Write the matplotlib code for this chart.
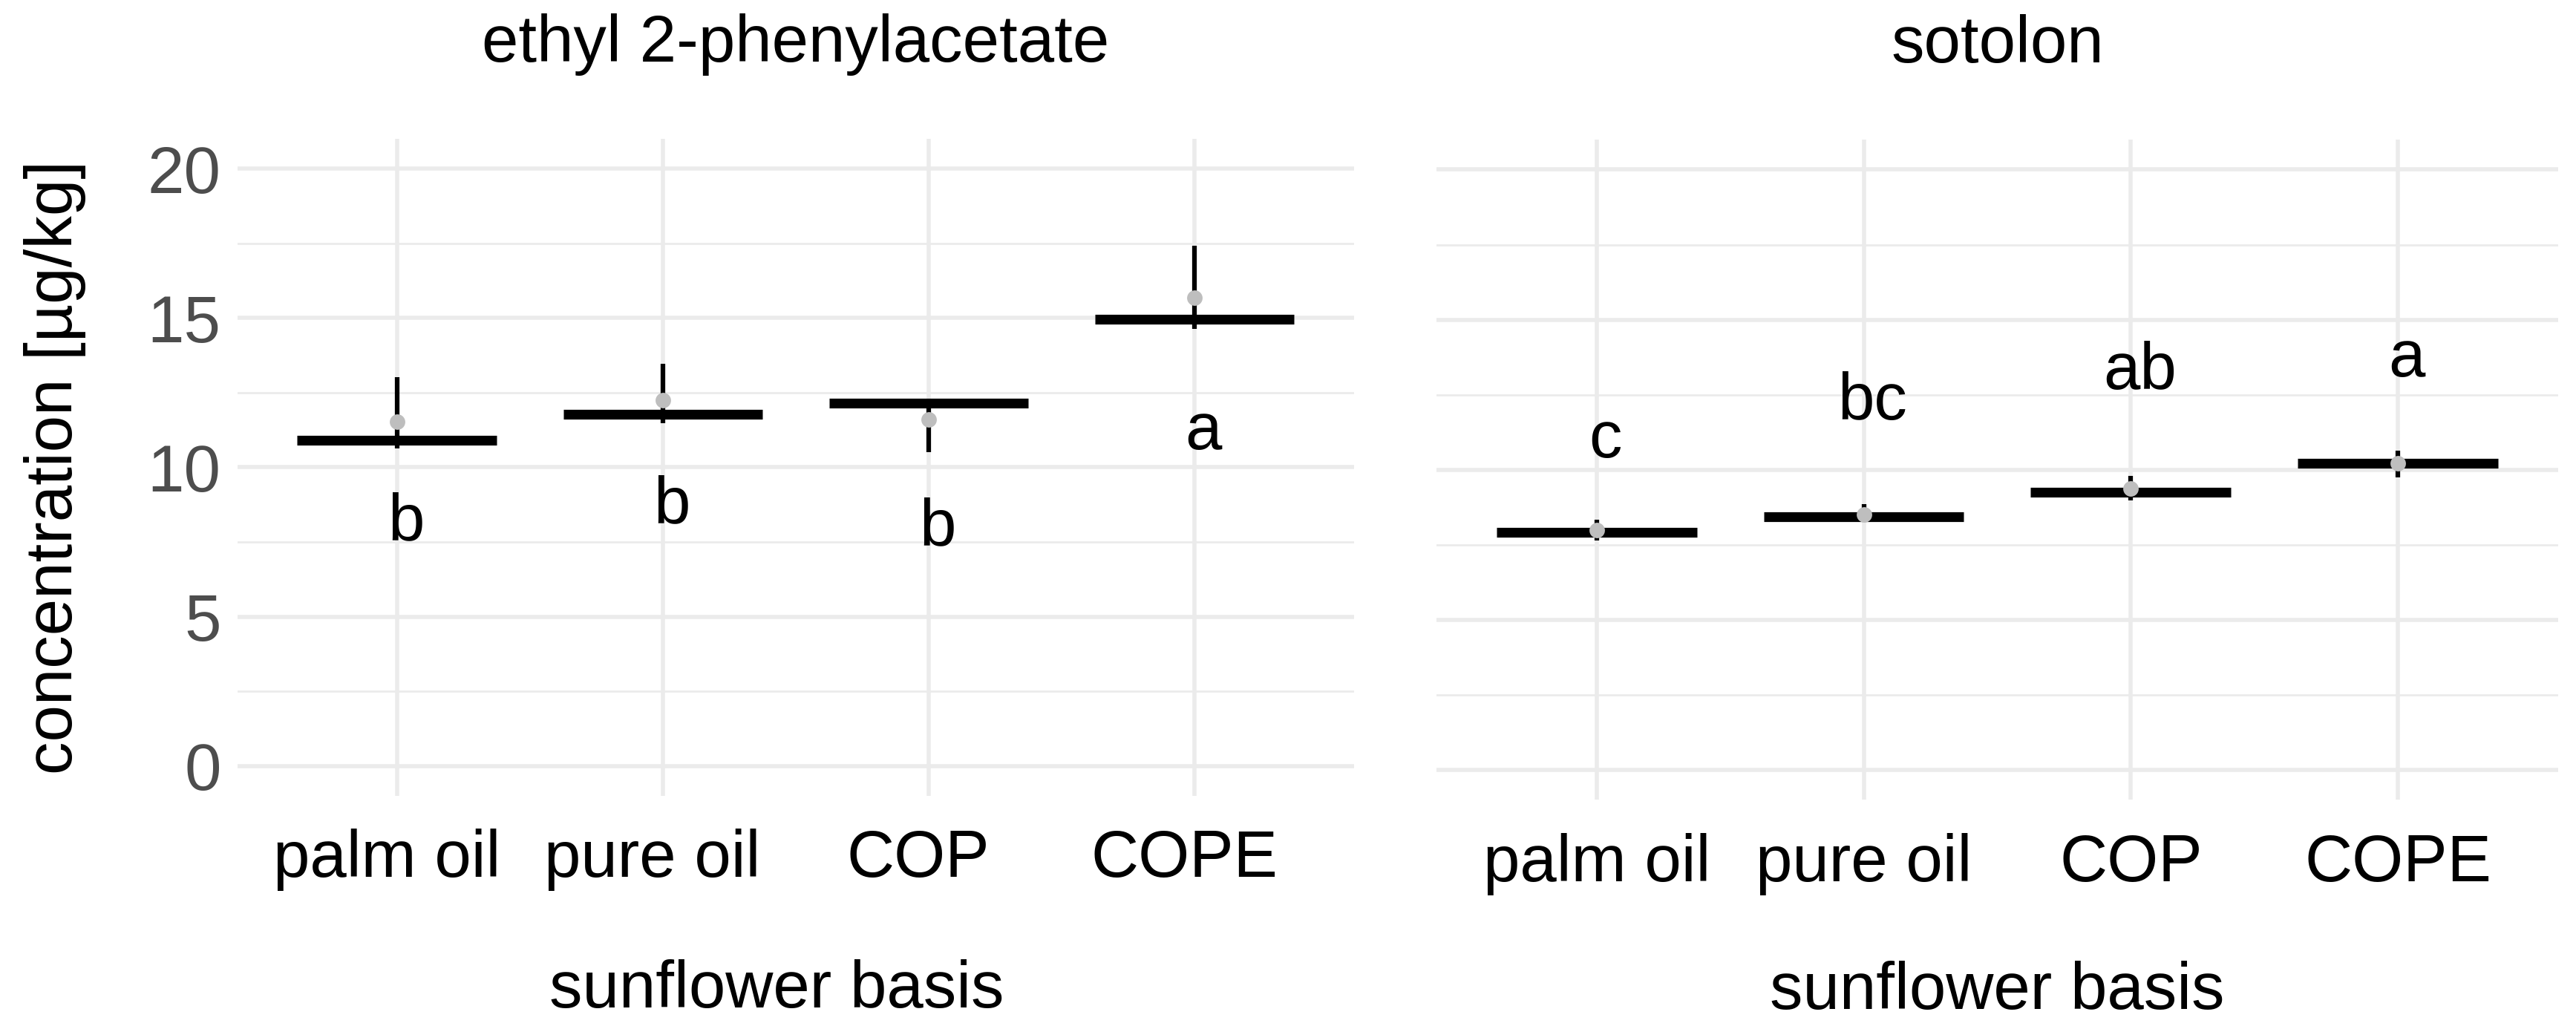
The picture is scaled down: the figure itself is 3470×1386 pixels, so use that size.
import numpy as np
import matplotlib.pyplot as plt
from matplotlib.transforms import ScaledTranslation

plt.rcParams['font.family'] = ['Liberation Sans', 'DejaVu Sans']

# sunflower basis categories
oils = ['palm oil', 'pure oil', 'COP', 'COPE']

# ethyl 2-phenylacetate [µg/kg]: min / median / max / mean of replicates
epa_min = [10.63, 11.49, 10.50, 14.64]
epa_median = [10.90, 11.77, 12.14, 14.95]
epa_max = [13.01, 13.47, 12.16, 17.42]
epa_mean = [11.52, 12.25, 11.60, 15.68]
epa_letters = ['b', 'b', 'b', 'a']
epa_letter_y = [7.58, 8.13, 7.39, 10.62]

# sotolon [µg/kg]
sot_min = [7.65, 8.26, 8.98, 9.74]
sot_median = [7.92, 8.43, 9.25, 10.21]
sot_max = [8.32, 8.84, 9.79, 10.64]
sot_mean = [7.99, 8.51, 9.36, 10.21]
sot_letters = ['c', 'bc', 'ab', 'a']
sot_letter_y = [10.40, 11.68, 12.68, 13.10]

FS = 64
GRID = '#EBEBEB'

fig = plt.figure(figsize=(34.7, 13.86), dpi=100)
ax1 = fig.add_axes([0.0922, 0.2266, 0.4334, 0.6385])
ax2 = fig.add_axes([0.5576, 0.2229, 0.4355, 0.6414])


# one panel: range line, median bar, grey mean point, group letters
def draw_panel(ax, title, lo, med, hi, mean, letters, letter_y):
    x = np.arange(len(oils))
    ax.vlines(x, lo, hi, color='black', lw=4.5, zorder=3)
    ax.hlines(med, x - 0.375, x + 0.375, color='black', lw=9.5, zorder=4)
    ax.plot(x, mean, 'o', color='#BEBEBE', ms=15, mec='none', zorder=5)
    nudge = ax.transData + ScaledTranslation(0.12, 0, fig.dpi_scale_trans)
    for xi, lab, ly in zip(x, letters, letter_y):
        ax.text(xi, ly, lab, ha='center', va='baseline', fontsize=FS,
                color='black', transform=nudge, zorder=6)

    ax.set_xlim(-0.6, len(oils) - 0.4)
    ax.set_ylim(-1, 21)
    ax.set_xticks(x)
    ax.set_xticklabels(oils, fontsize=FS, color='black')
    ax.set_yticks([0, 5, 10, 15, 20])
    ax.set_yticks([2.5, 7.5, 12.5, 17.5], minor=True)
    ax.tick_params(which='both', length=0)
    ax.tick_params(axis='x', pad=32)
    ax.tick_params(axis='y', pad=16, labelsize=FS, labelcolor='#4D4D4D')
    ax.grid(which='major', color=GRID, lw=4)
    ax.grid(which='minor', axis='y', color=GRID, lw=2)
    ax.set_axisbelow(True)
    for s in ax.spines.values():
        s.set_visible(False)
    ax.set_title(title, fontsize=FS, pad=75)
    ax.set_xlabel('sunflower basis', fontsize=FS, labelpad=64)


draw_panel(ax1, 'ethyl 2-phenylacetate', epa_min, epa_median, epa_max,
           epa_mean, epa_letters, epa_letter_y)
draw_panel(ax2, 'sotolon', sot_min, sot_median, sot_max,
           sot_mean, sot_letters, sot_letter_y)

ax1.set_ylabel('concentration [µg/kg]', fontsize=FS)
ax1.yaxis.set_label_coords(-0.1356, 0.5)
ax1.xaxis.set_label_coords(0.483, -0.2486)
ax1.xaxis.label.set_va('top')
ax2.tick_params(axis='y', labelleft=False)

# left panel's category labels sit a little left of their ticks
shift = ScaledTranslation(-0.14, 0, fig.dpi_scale_trans)
for lab in ax1.get_xticklabels():
    lab.set_transform(lab.get_transform() + shift)

fig.savefig('out.png', dpi=100, facecolor='white')
